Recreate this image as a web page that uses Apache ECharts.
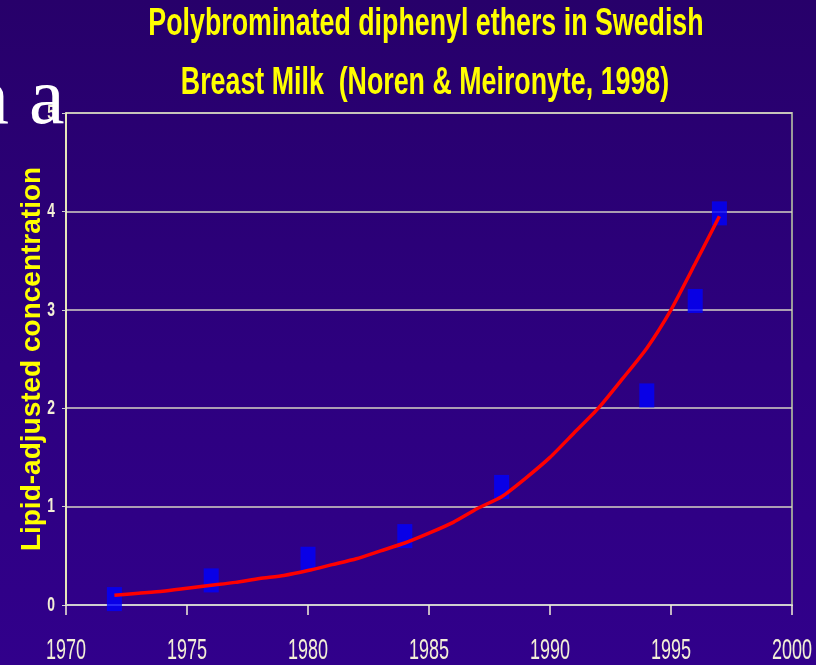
<!DOCTYPE html>
<html>
<head>
<meta charset="utf-8">
<script src="https://cdn.jsdelivr.net/npm/echarts@6/dist/echarts.min.js"></script>
<style>
  html, body { margin: 0; padding: 0; }
  #chart { width: 816px; height: 665px; background: linear-gradient(180deg, #27006a 0%, #2d007f 55%, #31008b 100%); }
</style>
</head>
<body>
<div id="chart"></div>
<script>
/* PBDE in Swedish breast milk: measured points + exponential trend curve. */
const sampleYears = [1972, 1976, 1980, 1984, 1988, 1994, 1996, 1997];
const sampleConc = [0.06, 0.25, 0.47, 0.70, 1.20, 2.13, 3.09, 3.98];

// trend curve, one value per year
const trendYears = [1972, 1973, 1974, 1975, 1976, 1977, 1978, 1979, 1980, 1981, 1982, 1983, 1984,
  1985, 1986, 1987, 1988, 1989, 1990, 1991, 1992, 1993, 1994, 1995, 1996, 1997];
const trendConc = [0.10, 0.12, 0.14, 0.17, 0.20, 0.23, 0.27, 0.30, 0.35, 0.41, 0.47, 0.55, 0.63,
  0.73, 0.84, 0.98, 1.10, 1.29, 1.50, 1.75, 2.00, 2.30, 2.61, 3.00, 3.47, 3.95];

// tick labels (drawn condensed, like the original Arial Narrow)
const xTicks = [1970, 1975, 1980, 1985, 1990, 1995, 2000];
const yTicks = [0, 1, 2, 3, 4, 5];

const titleLines = ["Polybrominated diphenyl ethers in Swedish", "Breast Milk  (Noren & Meironyte, 1998)"];
const yName = "Lipid-adjusted concentration";

const SANS = "'Liberation Sans', Arial, sans-serif";
const cream = "#f3efd6";

// a text mark placed through the axes, squeezed horizontally
const tickText = (dx, dy, size, weight, squeeze) => (params, api) => {
  const p = api.coord([api.value(0), api.value(1)]);
  return { type: "text", x: p[0] + dx, y: p[1] + dy, scaleX: squeeze,
    style: { text: String(api.value(2)), fill: cream, font: `${weight} ${size}px ${SANS}`, textAlign: "center", textVerticalAlign: "middle" } };
};

const chart = echarts.init(document.getElementById("chart"));
chart.setOption({
  animation: false,
  grid: { left: 66, right: 24, top: 113, bottom: 60, outerBoundsMode: "none", containLabel: false,
    show: true, borderColor: "#9a9a9a", borderWidth: 2 },
  xAxis: {
    type: "value", min: 1970, max: 2000, interval: 5,
    axisLine: { lineStyle: { color: "#cfcfcf", width: 2 } },
    axisTick: { show: true, length: 10, lineStyle: { color: cream, width: 1.5 } },
    splitLine: { show: false },
    axisLabel: { show: false },
  },
  yAxis: {
    type: "value", min: 0, max: 5, interval: 1,
    name: yName, nameLocation: "middle", nameGap: 20, nameMoveOverlap: false,
    nameTextStyle: { color: "#ffff00", fontFamily: SANS, fontWeight: "bold", fontSize: 28 },
    axisLine: { show: true, lineStyle: { color: "#ffffc4", width: 1.5 } },
    axisTick: { show: true, length: 4, lineStyle: { color: "#d0d0d0" } },
    splitLine: { lineStyle: { color: "#d6d2c4", width: 1.5 } },
    axisLabel: { show: false },
  },
  graphic: [
    { type: "text", x: 426, y: 25, scaleX: 0.705, z: 100,
      style: { text: titleLines[0], fill: "#ffff00", font: `bold 38px ${SANS}`, textAlign: "center", textVerticalAlign: "middle" } },
    { type: "text", x: 425, y: 84, scaleX: 0.705, z: 100,
      style: { text: titleLines[1], fill: "#ffff00", font: `bold 38px ${SANS}`, textAlign: "center", textVerticalAlign: "middle" } },
    // slide text bleeding in from the left edge
    { type: "text", x: -31, y: 102, z: 100,
      style: { text: "n a", fill: "#ffffff", font: "80px 'Liberation Serif', 'Times New Roman', serif", textAlign: "left", textVerticalAlign: "middle" } },
  ],
  series: [
    { type: "scatter", z: 1, symbol: "rect", symbolSize: [15, 24], itemStyle: { color: "#0000ff" },
      data: sampleYears.map((y, i) => [y, sampleConc[i]]) },
    { type: "line", z: 3, showSymbol: false, smooth: 0.2, lineStyle: { color: "#ff0000", width: 3.5 },
      data: trendYears.map((y, i) => [y, trendConc[i]]) },
    { type: "custom", z: 5, clip: false, silent: true, renderItem: tickText(0, 46, 30, "normal", 0.6),
      encode: { x: 0, y: 1 }, data: xTicks.map((t) => [t, 0, t]) },
    { type: "custom", z: 5, clip: false, silent: true, renderItem: tickText(-15, 0, 21, "bold", 0.66),
      encode: { x: 0, y: 1 }, data: yTicks.map((t) => [1970, t, t]) },
  ],
});
</script>
</body>
</html>
